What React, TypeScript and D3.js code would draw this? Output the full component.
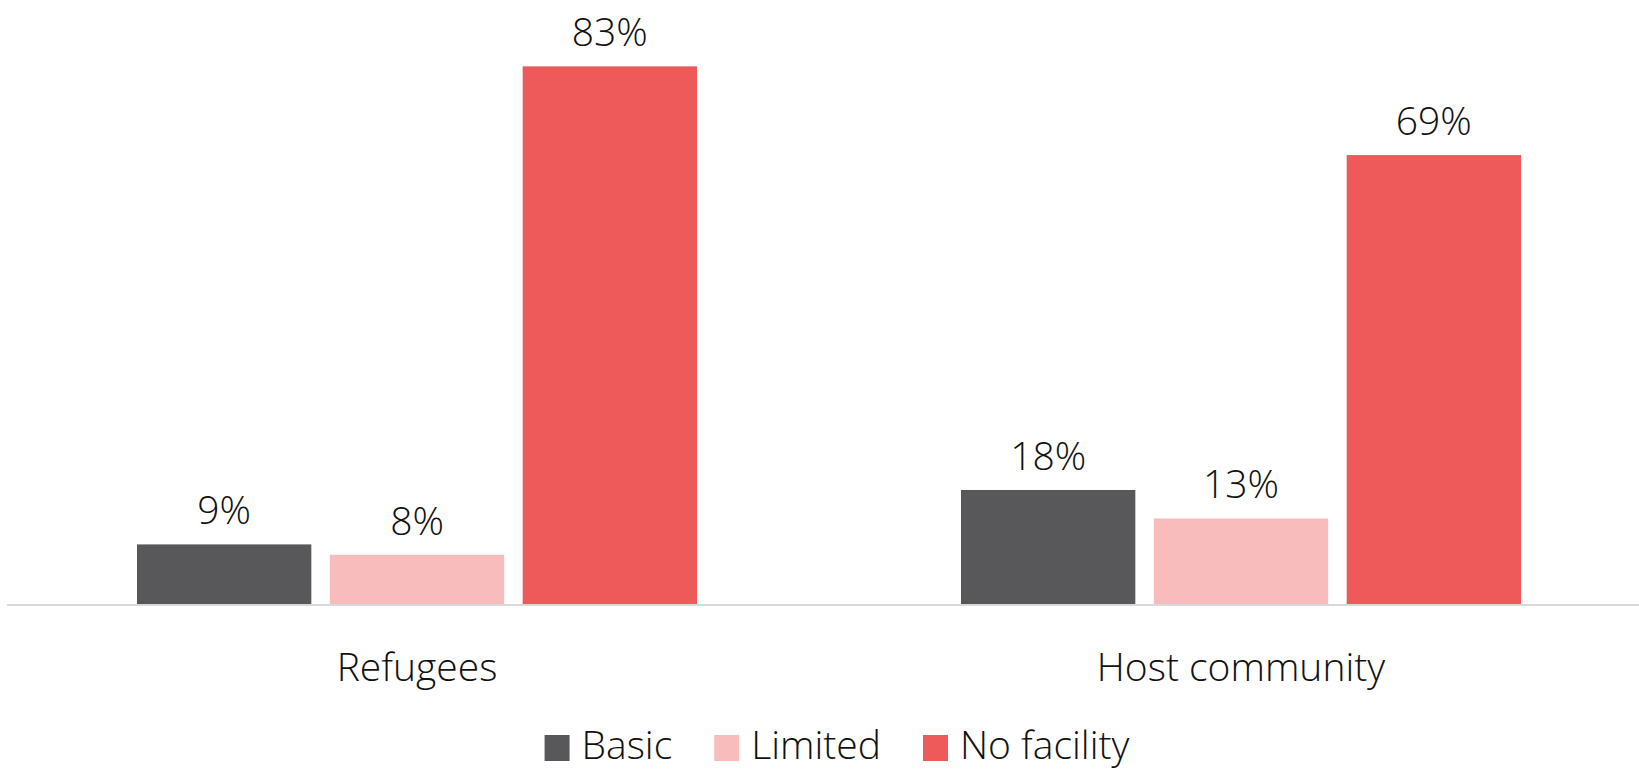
import React, { useEffect, useRef } from "react";
import * as d3 from "d3";

const categories = ["Refugees", "Host community"];
const seriesNames = ["Basic", "Limited", "No facility"];
// values (labels show them rounded)
const basicValues = [0.092, 0.176];
const limitedValues = [0.076, 0.132];
const noFacilityValues = [0.83, 0.693];
const seriesColors = ["#58585A", "#F8BCBC", "#EE5A5A"];

const WIDTH = 1639;
const HEIGHT = 769;
const FONT = "'Open Sans', 'Noto Sans', sans-serif";
const FONT_SIZE = 39;

export default function App() {
  const svgRef = useRef<SVGSVGElement | null>(null);

  useEffect(() => {
    if (!svgRef.current) return;
    const svg = d3.select(svgRef.current);
    svg.selectAll("*").remove();

    const baseline = 604;
    const plotTop = 21;
    const values = [basicValues, limitedValues, noFacilityValues];

    const x0 = d3.scaleBand<string>().domain(categories).range([5, 1653]);
    const groupWidth = 560;
    const x1 = d3
      .scaleBand<string>()
      .domain(seriesNames)
      .range([-groupWidth / 2, groupWidth / 2])
      .paddingInner(0.096);
    const y = d3.scaleLinear().domain([0, 0.9]).range([baseline, plotTop]);

    const fmt = d3.format(".0%");

    // bars + data labels
    categories.forEach((cat, ci) => {
      const cx = (x0(cat) ?? 0) + x0.bandwidth() / 2;
      const g = svg.append("g").attr("transform", `translate(${cx},0)`);
      seriesNames.forEach((s, si) => {
        const v = values[si][ci];
        g.append("rect")
          .attr("x", x1(s) ?? 0)
          .attr("y", y(v))
          .attr("width", x1.bandwidth())
          .attr("height", baseline - y(v))
          .attr("fill", seriesColors[si]);
        g.append("text")
          .attr("x", (x1(s) ?? 0) + x1.bandwidth() / 2)
          .attr("y", y(v) - 20)
          .attr("text-anchor", "middle")
          .attr("font-family", FONT)
          .attr("font-weight", 300)
          .attr("font-size", FONT_SIZE)
          .attr("fill", "#111")
          .text(fmt(v));
      });
      svg.append("text")
        .attr("x", cx)
        .attr("y", 681)
        .attr("text-anchor", "middle")
        .attr("font-family", FONT)
        .attr("font-weight", 300)
        .attr("font-size", FONT_SIZE)
        .attr("fill", "#111")
        .text(cat);
    });

    // axis line
    svg.append("line")
      .attr("x1", 7)
      .attr("x2", WIDTH)
      .attr("y1", baseline + 1)
      .attr("y2", baseline + 1)
      .attr("stroke", "#D9D9D9")
      .attr("stroke-width", 2);

    // legend, centred
    const legend = svg.append("g");
    const sq = 25;
    let cursor = 0;
    seriesNames.forEach((s, i) => {
      const item = legend.append("g").attr("transform", `translate(${cursor},0)`);
      item.append("rect")
        .attr("x", 0)
        .attr("y", 735)
        .attr("width", sq)
        .attr("height", 26)
        .attr("fill", seriesColors[i]);
      const t = item.append("text")
        .attr("x", sq + 12)
        .attr("y", 759)
        .attr("font-family", FONT)
        .attr("font-weight", 300)
        .attr("font-size", FONT_SIZE)
        .attr("fill", "#111")
        .text(s);
      const w = (t.node() as SVGTextElement).getComputedTextLength();
      cursor += sq + 12 + w + 42;
    });
    const total = cursor - 42;
    legend.attr("transform", `translate(${837 - total / 2},0)`);
  }, []);

  return (
    <svg
      ref={svgRef}
      width={WIDTH}
      height={HEIGHT}
      style={{ position: "fixed", left: 0, top: 0, background: "#fff" }}
    />
  );
}
